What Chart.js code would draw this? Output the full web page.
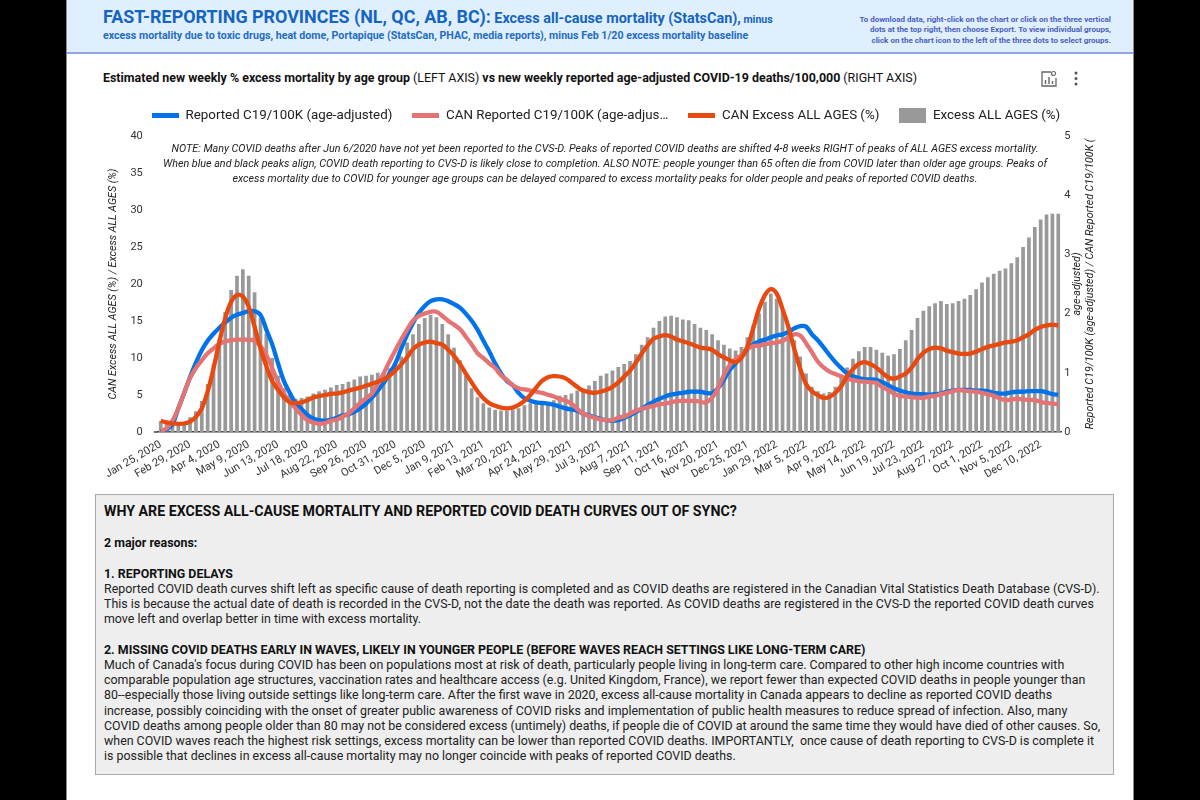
<!DOCTYPE html>
<html><head><meta charset="utf-8">
<script src="https://cdn.jsdelivr.net/npm/chart.js@4"></script>
<style>
html,body{margin:0;padding:0;background:#000;width:1200px;height:800px;overflow:hidden;font-family:Roboto,sans-serif}
#page{position:absolute;left:66px;top:0;width:1066px;height:800px;background:#fff;border-left:1px solid #8a8a8a;border-right:1px solid #8a8a8a}
#head{position:absolute;left:67px;top:0;width:1066px;height:52px;background:#e0effd;border-bottom:2px solid #93a6e3}
.t{position:absolute;white-space:pre;line-height:1}
canvas{position:absolute;left:0;top:89px}
#box{position:absolute;left:95px;top:494px;width:1017px;height:279px;background:#eeeeee;border:1.5px solid #a8a8a8;box-sizing:content-box}
#boxtext{position:absolute;left:104px;top:505px;font-size:12.4px;line-height:15.2px;color:#222;white-space:pre}
#boxtext b{color:#111}
</style></head><body>
<div id="page"></div><div id="head"></div>
<div class="t" style="left:103px;top:8px;font-size:17.9px;font-weight:700;color:#1565c0">FAST-REPORTING PROVINCES (NL, QC, AB, BC):<span style="font-size:14.4px"> Excess all-cause mortality (StatsCan),</span><span style="font-size:10.6px"> minus</span></div>
<div class="t" style="left:103px;top:31px;font-size:10.65px;font-weight:700;color:#1e6cc4">excess mortality due to toxic drugs, heat dome, Portapique (StatsCan, PHAC, media reports), minus Feb 1/20 excess mortality baseline</div>
<div class="t" style="right:89px;top:15px;font-size:8px;line-height:10.4px;font-weight:700;color:#4a5fc1;text-align:right">To download data, right-click on the chart or click on the three vertical
dots at the top right, then choose Export. To view individual groups,
click on the chart icon to the left of the three dots to select groups.</div>
<div class="t" style="left:103px;top:72px;font-size:12.43px;font-weight:700;color:#111">Estimated new weekly % excess mortality by age group <span style="font-weight:400">(LEFT AXIS)</span> vs new weekly reported age-adjusted COVID-19 deaths/100,000 <span style="font-weight:400">(RIGHT AXIS)</span></div>
<svg style="position:absolute;left:1040px;top:70px" width="42" height="17" viewBox="0 0 42 17" fill="none" stroke="#666">
<path d="M11 2H2v14h14V8" stroke-width="1.3"/><path d="M5.5 14V10M9 14V7M12.5 14V11" stroke-width="1.4"/><circle cx="13.5" cy="3.5" r="2" stroke-width="1.2"/>
<g fill="#555" stroke="none"><circle cx="36" cy="3" r="1.5"/><circle cx="36" cy="8.5" r="1.5"/><circle cx="36" cy="14" r="1.5"/></g></svg>
<canvas id="c" width="1200" height="401"></canvas>
<div class="t" style="left:0;width:1210px;text-align:center;top:141px;font-size:10.77px;line-height:15px;font-style:italic;color:#222">NOTE: Many COVID deaths after Jun 6/2020 have not yet been reported to the CVS-D. Peaks of reported COVID deaths are shifted 4-8 weeks RIGHT of peaks of ALL AGES excess mortality.
When blue and black peaks align, COVID death reporting to CVS-D is likely close to completion. ALSO NOTE: people younger than 65 often die from COVID later than older age groups. Peaks of
excess mortality due to COVID for younger age groups can be delayed compared to excess mortality peaks for older people and peaks of reported COVID deaths.</div>
<div class="t" style="left:1090px;top:284px;font-size:10.66px;font-style:italic;color:#222;transform:translate(-50%,-50%) rotate(-90deg)">Reported C19/100K (age-adjusted) / CAN Reported C19/100K (</div>
<div class="t" style="left:1077px;top:284px;font-size:10.66px;font-style:italic;color:#222;transform:translate(-50%,-50%) rotate(-90deg)">age-adjusted)</div>
<div id="box"></div>
<div id="boxtext"><b style="font-size:14.2px;position:relative;top:-1px">WHY ARE EXCESS ALL-CAUSE MORTALITY AND REPORTED COVID DEATH CURVES OUT OF SYNC?</b>

<b>2 major reasons:</b>

<b>1. REPORTING DELAYS</b>
Reported COVID death curves shift left as specific cause of death reporting is completed and as COVID deaths are registered in the Canadian Vital Statistics Death Database (CVS-D).
This is because the actual date of death is recorded in the CVS-D, not the date the death was reported. As COVID deaths are registered in the CVS-D the reported COVID death curves
move left and overlap better in time with excess mortality.

<b>2. MISSING COVID DEATHS EARLY IN WAVES, LIKELY IN YOUNGER PEOPLE (BEFORE WAVES REACH SETTINGS LIKE LONG-TERM CARE)</b>
Much of Canada's focus during COVID has been on populations most at risk of death, particularly people living in long-term care. Compared to other high income countries with
comparable population age structures, vaccination rates and healthcare access (e.g. United Kingdom, France), we report fewer than expected COVID deaths in people younger than
80--especially those living outside settings like long-term care. After the first wave in 2020, excess all-cause mortality in Canada appears to decline as reported COVID deaths
increase, possibly coinciding with the onset of greater public awareness of COVID risks and implementation of public health measures to reduce spread of infection. Also, many
COVID deaths among people older than 80 may not be considered excess (untimely) deaths, if people die of COVID at around the same time they would have died of other causes. So,
when COVID waves reach the highest risk settings, excess mortality can be lower than reported COVID deaths. IMPORTANTLY,  once cause of death reporting to CVS-D is complete it
is possible that declines in excess all-cause mortality may no longer coincide with peaks of reported COVID deaths.</div>
<script>
const weeks = [
"Jan 25, 2020","Feb 1, 2020","Feb 8, 2020","Feb 15, 2020","Feb 22, 2020","Feb 29, 2020","Mar 7, 2020","Mar 14, 2020","Mar 21, 2020","Mar 28, 2020",
"Apr 4, 2020","Apr 11, 2020","Apr 18, 2020","Apr 25, 2020","May 2, 2020","May 9, 2020","May 16, 2020","May 23, 2020","May 30, 2020","Jun 6, 2020",
"Jun 13, 2020","Jun 20, 2020","Jun 27, 2020","Jul 4, 2020","Jul 11, 2020","Jul 18, 2020","Jul 25, 2020","Aug 1, 2020","Aug 8, 2020","Aug 15, 2020",
"Aug 22, 2020","Aug 29, 2020","Sep 5, 2020","Sep 12, 2020","Sep 19, 2020","Sep 26, 2020","Oct 3, 2020","Oct 10, 2020","Oct 17, 2020","Oct 24, 2020",
"Oct 31, 2020","Nov 7, 2020","Nov 14, 2020","Nov 21, 2020","Nov 28, 2020","Dec 5, 2020","Dec 12, 2020","Dec 19, 2020","Dec 26, 2020","Jan 2, 2021",
"Jan 9, 2021","Jan 16, 2021","Jan 23, 2021","Jan 30, 2021","Feb 6, 2021","Feb 13, 2021","Feb 20, 2021","Feb 27, 2021","Mar 6, 2021","Mar 13, 2021",
"Mar 20, 2021","Mar 27, 2021","Apr 3, 2021","Apr 10, 2021","Apr 17, 2021","Apr 24, 2021","May 1, 2021","May 8, 2021","May 15, 2021","May 22, 2021",
"May 29, 2021","Jun 5, 2021","Jun 12, 2021","Jun 19, 2021","Jun 26, 2021","Jul 3, 2021","Jul 10, 2021","Jul 17, 2021","Jul 24, 2021","Jul 31, 2021",
"Aug 7, 2021","Aug 14, 2021","Aug 21, 2021","Aug 28, 2021","Sep 4, 2021","Sep 11, 2021","Sep 18, 2021","Sep 25, 2021","Oct 2, 2021","Oct 9, 2021",
"Oct 16, 2021","Oct 23, 2021","Oct 30, 2021","Nov 6, 2021","Nov 13, 2021","Nov 20, 2021","Nov 27, 2021","Dec 4, 2021","Dec 11, 2021","Dec 18, 2021",
"Dec 25, 2021","Jan 1, 2022","Jan 8, 2022","Jan 15, 2022","Jan 22, 2022","Jan 29, 2022","Feb 5, 2022","Feb 12, 2022","Feb 19, 2022","Feb 26, 2022",
"Mar 5, 2022","Mar 12, 2022","Mar 19, 2022","Mar 26, 2022","Apr 2, 2022","Apr 9, 2022","Apr 16, 2022","Apr 23, 2022","Apr 30, 2022","May 7, 2022",
"May 14, 2022","May 21, 2022","May 28, 2022","Jun 4, 2022","Jun 11, 2022","Jun 19, 2022","Jun 25, 2022","Jul 2, 2022","Jul 9, 2022","Jul 16, 2022",
"Jul 23, 2022","Jul 30, 2022","Aug 6, 2022","Aug 13, 2022","Aug 20, 2022","Aug 27, 2022","Sep 3, 2022","Sep 10, 2022","Sep 17, 2022","Sep 24, 2022",
"Oct 1, 2022","Oct 8, 2022","Oct 15, 2022","Oct 22, 2022","Oct 29, 2022","Nov 5, 2022","Nov 12, 2022","Nov 19, 2022","Nov 26, 2022","Dec 3, 2022",
"Dec 10, 2022","Dec 17, 2022","Dec 24, 2022","Dec 31, 2022"];
const reportedC19 = [
0,.04,.13,.4,.66,.93,1.17,1.38,1.54,1.66,
1.76,1.85,1.93,1.98,2.01,2.04,2.04,1.98,1.73,1.48,
1.16,.86,.66,.49,.39,.29,.23,.2,.19,.21,
.24,.28,.3,.34,.4,.48,.58,.7,.83,.99,
1.16,1.41,1.64,1.84,2.01,2.13,2.21,2.24,2.24,2.21,
2.16,2.1,2,1.88,1.73,1.54,1.36,1.16,.99,.86,
.79,.66,.57,.53,.5,.49,.48,.46,.43,.4,
.38,.36,.31,.28,.25,.22,.2,.19,.2,.24,
.28,.34,.39,.46,.51,.56,.6,.63,.65,.66,
.68,.68,.68,.66,.66,.74,.88,1.05,1.16,1.28,
1.4,1.48,1.53,1.56,1.6,1.63,1.65,1.69,1.75,1.79,
1.78,1.65,1.55,1.43,1.3,1.18,1.08,.99,.94,.91,
.89,.89,.88,.84,.79,.74,.7,.67,.65,.64,
.64,.63,.64,.65,.68,.7,.71,.71,.71,.7,
.7,.69,.66,.65,.65,.67,.68,.68,.69,.69,
.69,.67,.64,.63];
const canReportedC19 = [
.02,.06,.19,.4,.66,.91,1.08,1.21,1.33,1.41,
1.49,1.53,1.55,1.56,1.56,1.56,1.54,1.45,1.3,1.08,
.84,.65,.51,.4,.29,.2,.16,.14,.15,.19,
.21,.26,.31,.4,.49,.57,.65,.81,.99,1.19,
1.38,1.56,1.73,1.88,1.96,2,2.03,2.03,1.96,1.88,
1.81,1.74,1.61,1.48,1.33,1.25,1.16,1.08,.96,.88,
.79,.74,.72,.7,.68,.66,.63,.6,.56,.53,
.48,.39,.31,.27,.24,.21,.2,.2,.24,.26,
.31,.36,.39,.42,.44,.47,.48,.5,.52,.53,
.52,.53,.51,.5,.58,.74,.96,1.13,1.23,1.3,
1.41,1.45,1.46,1.48,1.5,1.51,1.54,1.6,1.65,1.63,
1.5,1.35,1.19,1.09,1.02,.98,.94,.9,.88,.86,
.85,.84,.83,.76,.71,.65,.61,.6,.59,.58,
.58,.6,.61,.64,.66,.69,.71,.7,.69,.68,
.66,.64,.61,.57,.54,.55,.56,.55,.54,.54,
.51,.49,.48,.47];
const canExcess = [
1.5,1.3,1.15,1.1,1.15,1.4,2.05,3.2,5.45,8.6,
12.2,15.4,17.6,18.5,18.3,16.9,14.2,11.3,8.9,6.9,
5.7,4.7,4,3.9,4,4.3,4.65,4.85,5,5.15,
5.2,5.35,5.6,5.8,6,6.25,6.5,6.8,7.1,7.6,
8.3,9.15,10.1,11.2,11.8,12.1,12.2,12,11.8,11.1,
10.3,9.2,7.9,6.7,5.5,4.55,3.9,3.55,3.3,3.2,
3.3,3.65,4.2,5,6,6.9,7.4,7.55,7.5,7.25,
6.7,6.1,5.6,5.4,5.3,5.45,5.7,6.1,6.7,7.5,
8.3,9.4,10.6,11.7,12.6,12.9,13.1,12.9,12.5,12.25,
12,11.7,11.4,11.3,11.1,10.5,10.1,9.7,9.45,10,
11.5,14,16.7,18.5,19.3,18.7,16.6,14.2,11.2,8.6,
6.5,5.5,5,4.6,4.75,5.3,6.2,7.5,8.5,9.2,
9.45,9.15,8.7,8,7.4,7.2,7.5,7.9,8.7,9.85,
10.7,11.2,11.4,11.3,11,10.8,10.6,10.55,10.6,10.85,
11.2,11.5,11.7,11.9,12.1,12.2,12.4,12.8,13.2,13.8,
14.2,14.4,14.5,14.4];
const excessAll = [
1.5,1.1,1,1,1.2,2,2.8,4.2,6.5,9.2,
12.6,16.2,19.2,21.1,22,21.1,18.9,15.4,13.3,10,
7.6,5.9,5,4.5,4.6,4.8,5.2,5.5,5.7,6,
6.35,6.5,6.8,7.1,7.5,7.6,7.75,8,8.1,8.6,
9.3,10.2,12.1,13.2,14.6,15.4,15.8,15.5,14.6,13.2,
11.4,9.7,7.6,5.9,4.7,3.9,3.3,3,2.9,2.9,
3,3.2,3.6,3.9,4,4,4,4.3,4.9,5,
5.2,5.6,5.8,6.3,6.9,7.6,7.9,8.3,8.8,9.2,
9.6,10.5,11.8,12.8,14.1,15,15.6,15.7,15.5,15.2,
15.1,14.6,14.1,13.8,13.2,12.4,11.8,11.3,11,11.5,
12.8,14.4,16,17.6,18.7,18,16.5,14.2,12.4,10.2,
7.9,6.1,5.5,5.2,5.4,6.1,7.3,8.7,9.9,10.9,
11.5,11.5,11.1,10.7,10.3,10.5,11.2,12.4,13.8,15.4,
16.4,17,17.4,17.7,17.3,17.4,17.7,18,18.5,19.3,
20.2,20.9,21.4,21.8,22.1,22.8,23.6,25,26.3,27.7,
28.7,29.4,29.5,29.5];
const leftTicks = [0,5,10,15,20,25,30,35,40];
const rightTicks = [0,1,2,3,4,5];
const seriesNames = ["Reported C19/100K (age-adjusted)","CAN Reported C19/100K (age-adjus…","CAN Excess ALL AGES (%)","Excess ALL AGES (%)"];
const colors = ["#0073ea","#e57373","#e8490f","#999999"];

function swatch(w,h,c){const v=document.createElement('canvas');v.width=w;v.height=h;const x=v.getContext('2d');x.fillStyle=c;x.fillRect(0,0,w,h);return v;}
const swatches=[swatch(27,5,colors[0]),swatch(27,5,colors[1]),swatch(27,5,colors[2]),swatch(27,15,colors[3])];

const tickFont={family:'Roboto',size:11};
new Chart(document.getElementById('c'),{
  type:'bar',
  data:{labels:weeks,datasets:[
    {type:'line',label:seriesNames[0],data:reportedC19,yAxisID:'y1',borderColor:colors[0],backgroundColor:colors[0],borderWidth:4.3,pointRadius:0,tension:.4,order:3},
    {type:'line',label:seriesNames[1],data:canReportedC19,yAxisID:'y1',borderColor:colors[1],backgroundColor:colors[1],borderWidth:4.3,pointRadius:0,tension:.4,order:2},
    {type:'line',label:seriesNames[2],data:canExcess,yAxisID:'y',borderColor:colors[2],backgroundColor:colors[2],borderWidth:4.3,pointRadius:0,tension:.4,order:1},
    {type:'bar',label:seriesNames[3],data:excessAll,yAxisID:'y',backgroundColor:colors[3],barPercentage:.63,categoryPercentage:1,order:4}
  ]},
  options:{
    responsive:false,animation:false,
    layout:{padding:{left:12,right:0,top:0,bottom:0}},
    plugins:{
      tooltip:{enabled:false},
      legend:{position:'top',labels:{
        color:'#212121',font:{family:'Roboto',size:13.35},padding:20,boxHeight:14,usePointStyle:true,pointStyleWidth:27,
        generateLabels:ch=>ch.data.datasets.map((d,i)=>({text:d.label,datasetIndex:i,pointStyle:swatches[i],fontColor:'#212121',fillStyle:d.backgroundColor,strokeStyle:d.backgroundColor,lineWidth:0,hidden:false}))
      }}
    },
    scales:{
      x:{
        grid:{display:false,drawTicks:false},
        border:{display:true,color:'#444',width:1.5},
        ticks:{autoSkip:false,minRotation:30,maxRotation:30,padding:6,color:'#333',font:tickFont,
          callback(v,i){return i%5===0?this.getLabelForValue(v):'';}},
        afterFit(s){s.height=58;s.paddingLeft=0;s.paddingRight=0;}
      },
      y:{
        position:'left',min:0,max:40,
        grid:{display:false,drawTicks:false},border:{display:false},
        afterBuildTicks(s){s.ticks=leftTicks.map(value=>({value}));},
        ticks:{padding:15,color:'#333',font:tickFont},
        title:{display:true,text:'CAN Excess ALL AGES (%) / Excess ALL AGES (%)',color:'#222',font:{family:'Roboto',size:10.7,style:'italic'},padding:{top:95,bottom:0}},
        afterFit(s){s.width=145.8;}
      },
      y1:{
        position:'right',min:0,max:5,
        grid:{display:false,drawTicks:false},border:{display:false},
        afterBuildTicks(s){s.ticks=rightTicks.map(value=>({value}));},
        ticks:{padding:3,color:'#333',font:tickFont},
        afterFit(s){s.width=138.8;}
      }
    }
  },
  plugins:[{
    id:'legendHeight',
    beforeInit(ch){const f=ch.legend.fit;ch.legend.fit=function(){f.call(this);this.height=47;};},
    afterDraw(ch){const a=ch.chartArea,c=ch.ctx;c.save();c.strokeStyle='#444';c.lineWidth=1.5;c.beginPath();c.moveTo(a.left-4,a.bottom);c.lineTo(a.left,a.bottom);c.stroke();c.restore();}
  }]
});
</script>
</body></html>
